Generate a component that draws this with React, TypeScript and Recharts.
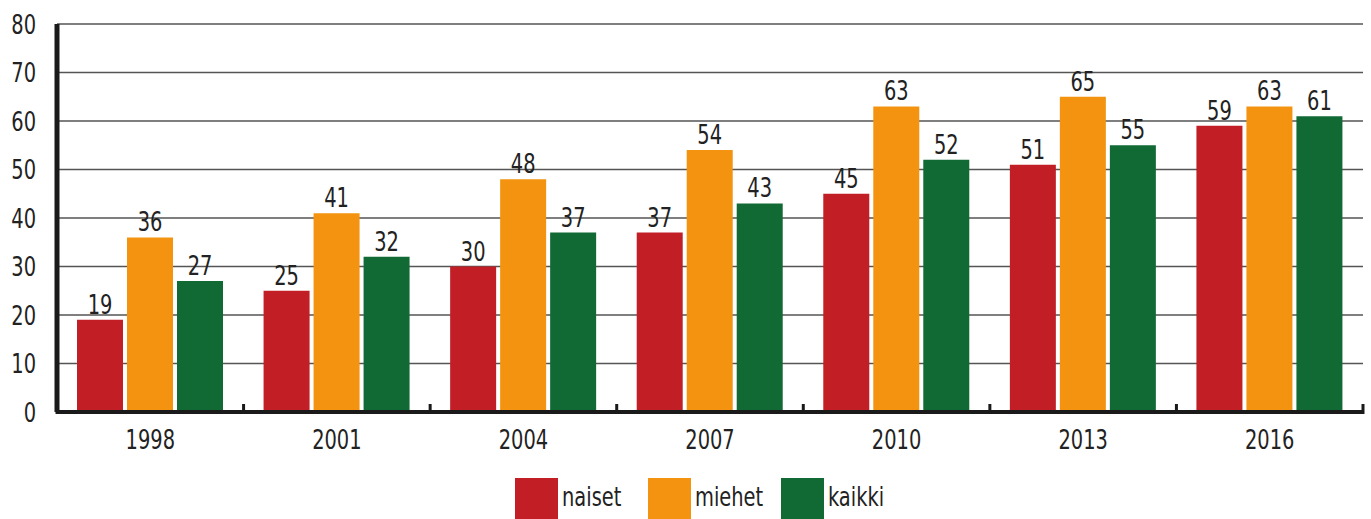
import { BarChart, Bar, XAxis, YAxis, CartesianGrid, Legend, LabelList } from "recharts";

const years = ["1998", "2001", "2004", "2007", "2010", "2013", "2016"];
const naiset = [19, 25, 30, 37, 45, 51, 59];
const miehet = [36, 41, 48, 54, 63, 65, 63];
const kaikki = [27, 32, 37, 43, 52, 55, 61];
const yTicks = [0, 10, 20, 30, 40, 50, 60, 70, 80];

const series = [
  { key: "naiset", color: "#c11e26" },
  { key: "miehet", color: "#f3930f" },
  { key: "kaikki", color: "#116934" },
];

const data = years.map((year, i) => ({
  year,
  naiset: naiset[i],
  miehet: miehet[i],
  kaikki: kaikki[i],
}));

const FONT = "'DejaVu Sans Condensed', 'DejaVu Sans', sans-serif";
const FS = 27;
const SX = 0.8; // squeeze the glyphs to get the narrow look of the original
const W = 1371;
const H = 519;
const M = { top: 24, right: 8, left: 0, bottom: 0 };
const Y_W = 57;
const step = (W - M.left - M.right - Y_W) / years.length;

function Narrow({ x, y, anchor, dy, children }: any) {
  return (
    <g transform={`translate(${x},${y}) scale(${SX},1)`}>
      <text x={0} y={0} dy={dy} textAnchor={anchor} fontSize={FS} fill="#222" fontFamily={FONT}>
        {children}
      </text>
    </g>
  );
}

function YearTick(props: any) {
  const { x, y, payload, index } = props;
  const left = x - step / 2;
  return (
    <g>
      <line x1={left} x2={left} y1={y - 10} y2={y} stroke="#1a1a1a" strokeWidth={3} />
      {index === years.length - 1 && (
        <line x1={x + step / 2} x2={x + step / 2} y1={y - 10} y2={y} stroke="#1a1a1a" strokeWidth={3} />
      )}
      <Narrow x={x} y={y + 35} anchor="middle">{payload.value}</Narrow>
    </g>
  );
}

function ValueTick(props: any) {
  const { x, y, payload } = props;
  return <Narrow x={x} y={y} anchor="end" dy="0.36em">{payload.value}</Narrow>;
}

function BarValue(props: any) {
  const { x, y, width, value } = props;
  return <Narrow x={x + width / 2} y={y - 6} anchor="middle">{value}</Narrow>;
}

function LegendBox() {
  return (
    <div style={{ display: "flex", justifyContent: "center", height: 41, paddingLeft: 38, fontFamily: FONT, fontSize: FS, color: "#222" }}>
      {series.map((s, i) => (
        <div key={s.key} style={{ display: "flex", alignItems: "flex-start", width: i < series.length - 1 ? 133 : 105 }}>
          <div style={{ width: 43, height: 41, background: s.color, marginRight: 4, flexShrink: 0 }} />
          <span style={{ lineHeight: "38px", display: "inline-block", transform: `scaleX(${SX})`, transformOrigin: "left", whiteSpace: "nowrap" }}>
            {s.key}
          </span>
        </div>
      ))}
    </div>
  );
}

export default function App() {
  return (
    <div style={{ position: "absolute", left: 0, top: 0, background: "#fff" }}>
      <BarChart width={W} height={H} data={data} margin={M} barSize={46} barGap={4}>
        <CartesianGrid vertical={false} stroke="#555" strokeWidth={1.5} />
        <XAxis
          dataKey="year"
          height={66}
          tickLine={false}
          tickSize={0}
          tick={<YearTick />}
          axisLine={{ stroke: "#1a1a1a", strokeWidth: 4 }}
          interval={0}
        />
        <YAxis
          width={Y_W}
          domain={[0, 80]}
          ticks={yTicks}
          tickLine={false}
          tickSize={0}
          tickMargin={21}
          axisLine={{ stroke: "#1a1a1a", strokeWidth: 5 }}
          tick={<ValueTick />}
        />
        <Legend verticalAlign="bottom" content={<LegendBox />} />
        {series.map((s) => (
          <Bar key={s.key} dataKey={s.key} fill={s.color} isAnimationActive={false}>
            <LabelList dataKey={s.key} content={<BarValue />} />
          </Bar>
        ))}
      </BarChart>
    </div>
  );
}
